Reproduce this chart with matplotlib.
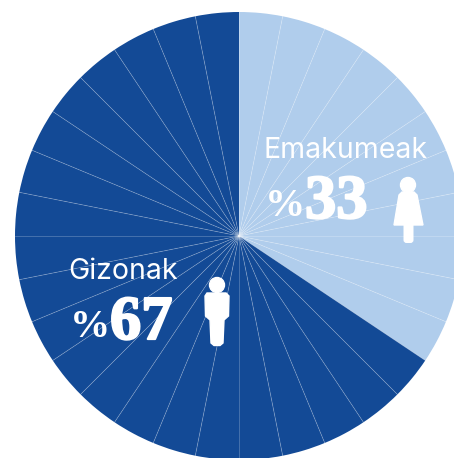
import numpy as np
import matplotlib
matplotlib.use("Agg")
import matplotlib.pyplot as plt
import matplotlib.patheffects as pe
from matplotlib.patches import Circle, Polygon, FancyBboxPatch

# one slice per person
labels = ["Emakumeak", "Gizonak"]
values = ["33", "67"]
counts = [11, 21]

dark = "#134a96"
light = "#b0cdec"
slices = [1] * sum(counts)
colors = [light] * counts[0] + [dark] * counts[1]

fig = plt.figure(figsize=(4.54, 4.58), dpi=100)
ax = fig.add_axes([0, 0, 1, 1])

# y axis runs downward, so startangle=-90 + counterclock goes clockwise from the top
wedges, _ = ax.pie(slices, colors=colors, startangle=-90, counterclock=True,
                   center=(239, 236), radius=224)
ax.set_xlim(0, 454)
ax.set_ylim(458, 0)
ax.set_aspect("equal")
ax.axis("off")

# thin spokes
for w in wedges:
    a = np.deg2rad(w.theta1)
    ax.plot([239, 239 + 224 * np.cos(a)], [236, 236 + 224 * np.sin(a)],
            color="white", alpha=0.25, lw=0.6, zorder=3)

ax.text(264, 158.5, labels[0], color="white", fontsize=20.5, family="Inter", zorder=5)
ax.text(68, 279, labels[1], color="white", fontsize=20.5, family="Inter", zorder=5)

fat = [pe.withStroke(linewidth=1.6, foreground="white")]
for x, y, v in [(265, 218, values[0]), (70, 339, values[1])]:
    ax.text(x, y - 2, "%", color="white", fontsize=29, family="Liberation Serif",
            weight="bold", zorder=5)
    ax.text(x + 40, y, v, color="white", fontsize=45, family="Liberation Serif",
            weight="bold", zorder=5, path_effects=fat)

# woman icon
ax.add_patch(Circle((408, 185), 7.5, color="white", zorder=5))
ax.add_patch(Polygon([(402, 192), (414, 192), (417, 195), (423, 225), (394, 225), (399, 195)],
                     closed=True, color="white", zorder=5))
ax.add_patch(FancyBboxPatch((403.5, 222), 10, 21, boxstyle="round,pad=0,rounding_size=3",
                            color="white", zorder=5, lw=0))

# man icon
ax.add_patch(Circle((217, 285), 7.5, color="white", zorder=5))
ax.add_patch(Polygon([(207, 293), (226, 293), (229, 296), (228.5, 316), (224, 320), (223, 343),
                      (220, 345.5), (214, 345.5), (211, 343), (210, 320), (205.5, 316), (205, 296)],
                     closed=True, color="white", zorder=5))

fig.savefig("out.png", dpi=100)
